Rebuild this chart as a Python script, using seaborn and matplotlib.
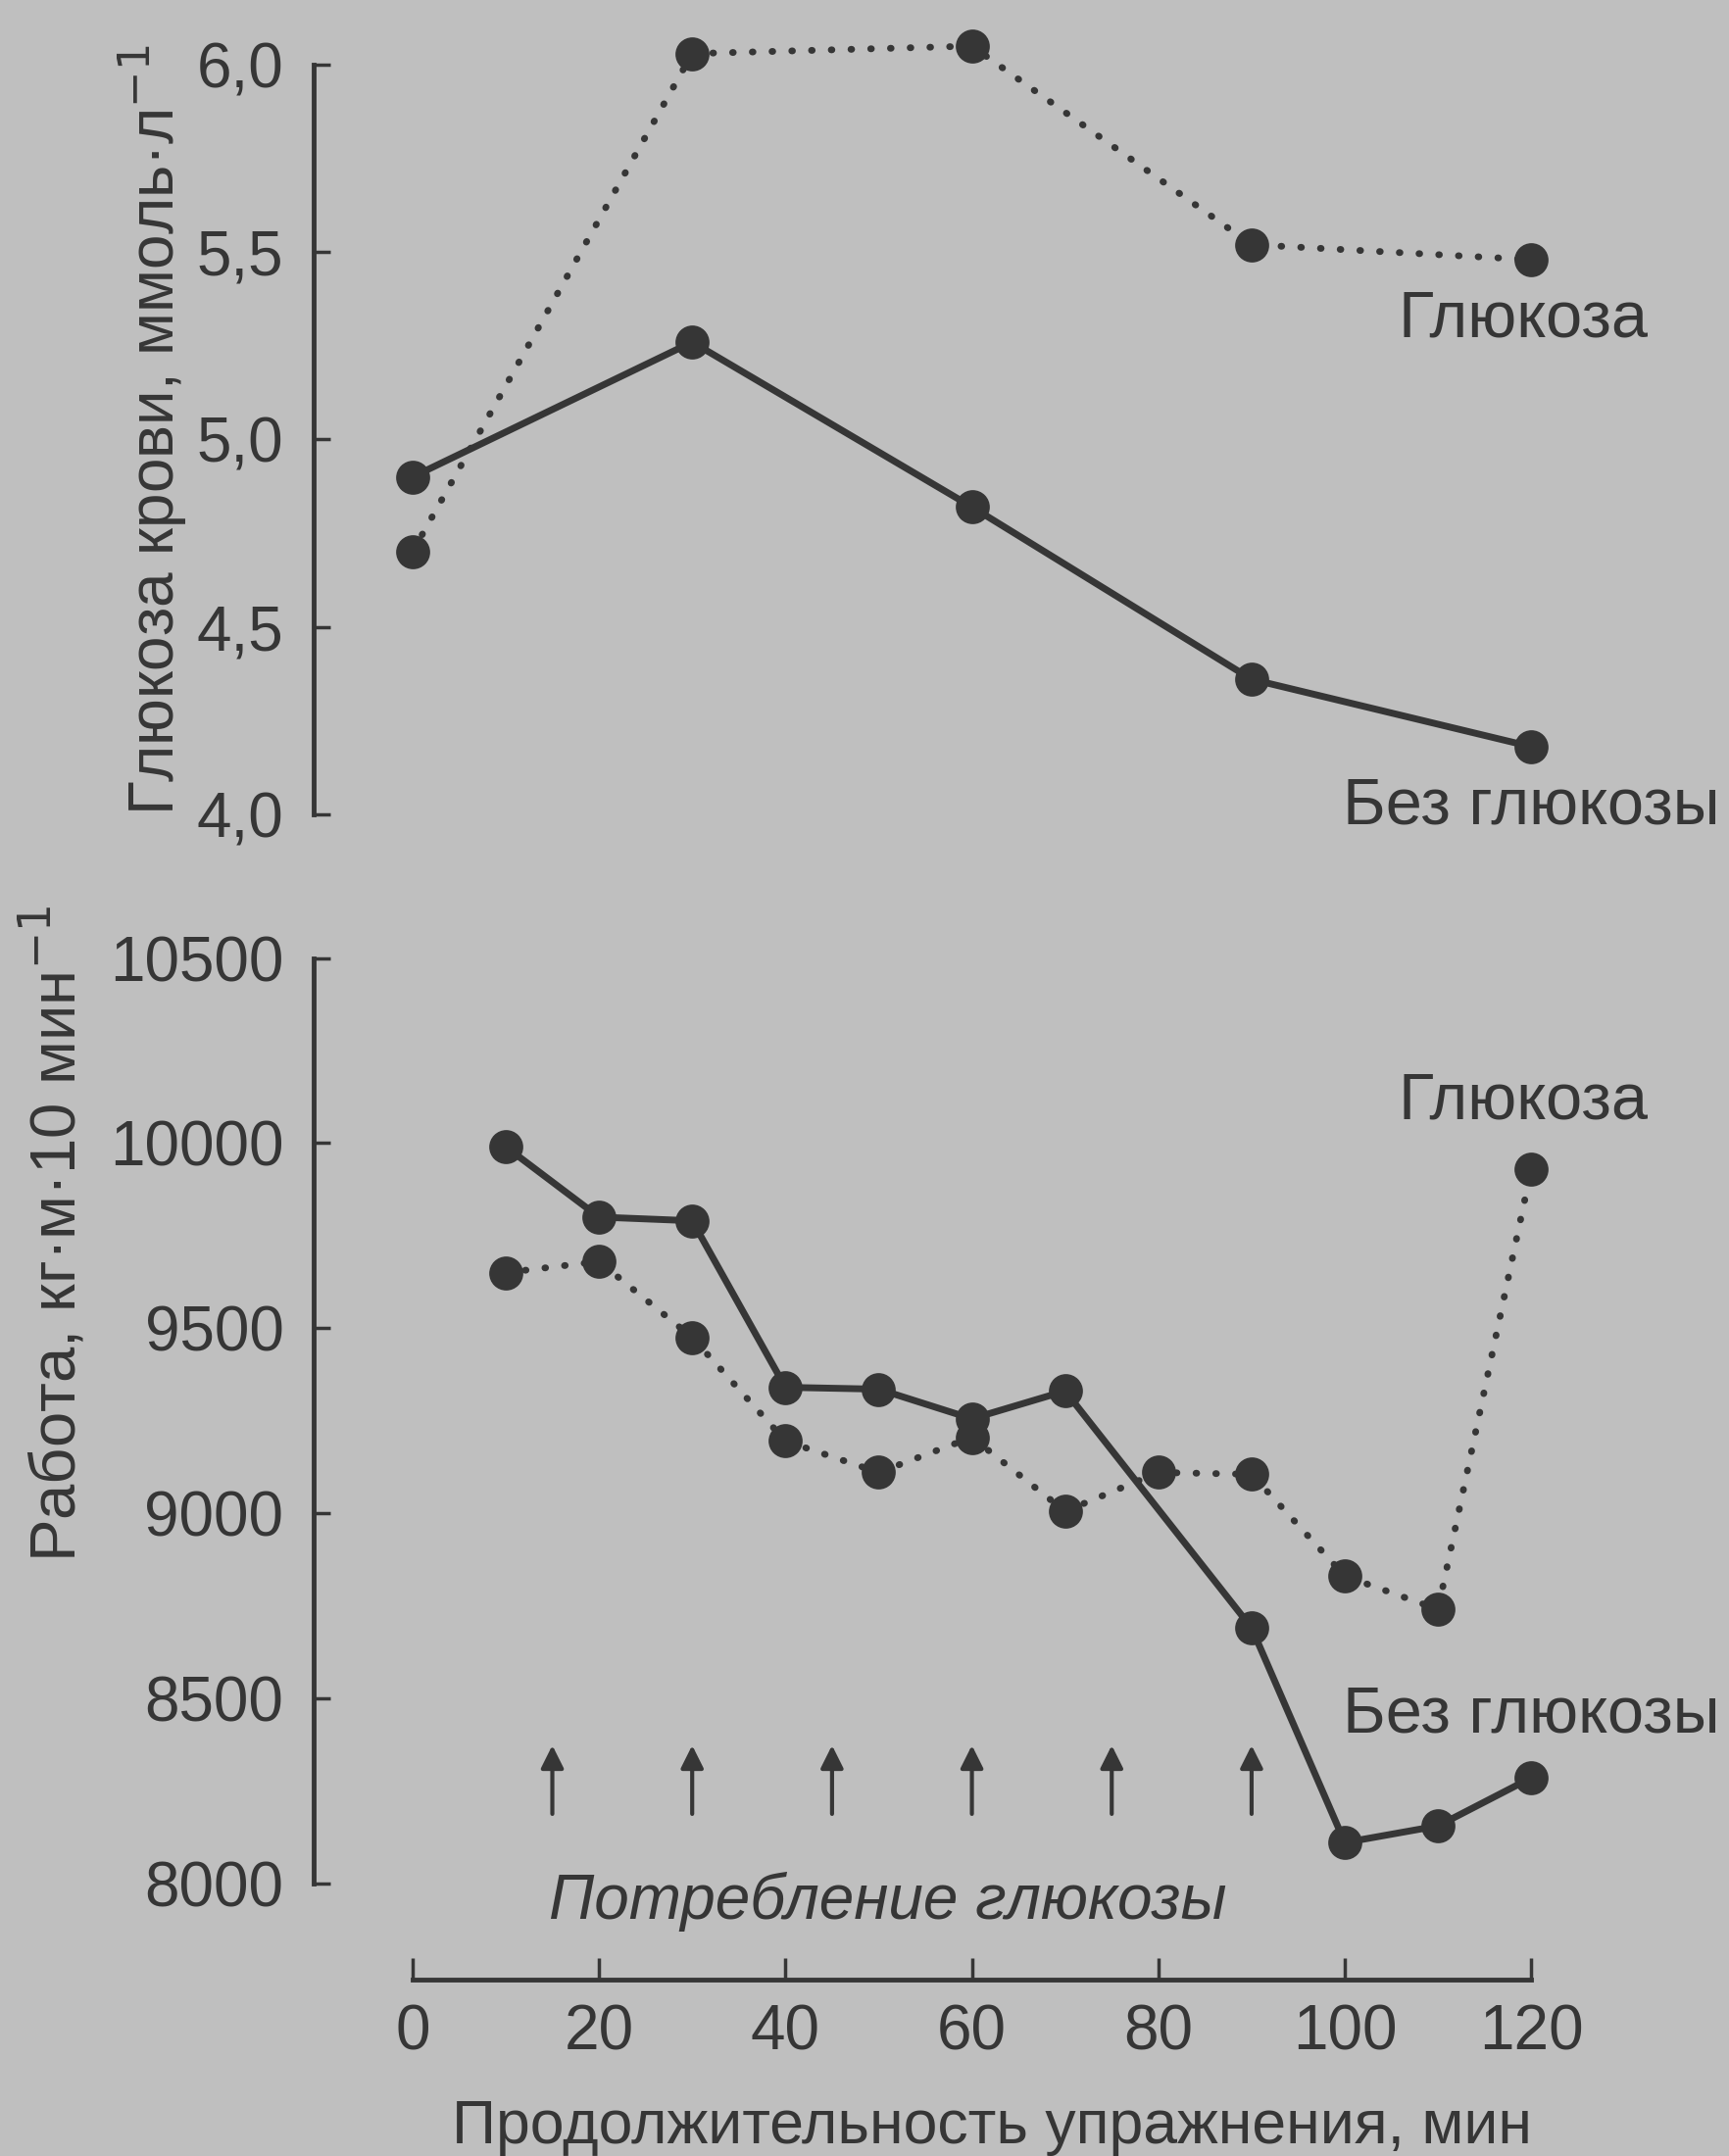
import matplotlib
matplotlib.use("Agg")
import matplotlib.pyplot as plt
import seaborn as sns

# ---- data ----
time_top = [0, 30, 60, 90, 120]
glucose_with = [4.70, 6.03, 6.05, 5.52, 5.48]
glucose_without = [4.90, 5.26, 4.82, 4.36, 4.18]

time_work = [10, 20, 30, 40, 50, 60, 70, 80, 90, 100, 110, 120]
work_with = [9650, 9680, 9475, 9195, 9110, 9205, 9005, 9110, 9105, 8830, 8740, 9930]
time_work_no = [10, 20, 30, 40, 50, 60, 70, 90, 100, 110, 120]
work_without = [9990, 9800, 9790, 9340, 9335, 9255, 9330, 8690, 8110, 8155, 8285]

intake_times = [15, 30, 45, 60, 75, 90]

top_ticks = [4.0, 4.5, 5.0, 5.5, 6.0]
top_ticklabels = ["4,0", "4,5", "5,0", "5,5", "6,0"]
work_ticks = [8000, 8500, 9000, 9500, 10000, 10500]
x_ticks = [0, 20, 40, 60, 80, 100, 120]

# ---- style ----
BG = "#bfbfbf"
INK = "#363636"
sns.set_style("ticks")
plt.rcParams['font.family'] = ['Liberation Sans', 'DejaVu Sans']
plt.rcParams['text.color'] = INK
plt.rcParams['axes.labelcolor'] = INK
plt.rcParams['xtick.color'] = INK
plt.rcParams['ytick.color'] = INK

fig = plt.figure(figsize=(17.65, 22), dpi=100, facecolor=BG)
ax1 = fig.add_axes([0.1813, 0.605, 0.7847, 0.391])
ax2 = fig.add_axes([0.1813, 0.075, 0.7847, 0.515])
for ax in (ax1, ax2):
    ax.set_facecolor(BG)
    ax.patch.set_alpha(0)
    for s in ['top', 'right']:
        ax.spines[s].set_visible(False)
    ax.spines['left'].set_color(INK)
    ax.spines['left'].set_linewidth(3.5)
    ax.set_xlim(-10.6, 135)
    ax.tick_params(axis='y', direction='in', length=12, width=2.5, pad=22, labelsize=46)

dotted = dict(color=INK, linewidth=5, linestyle=(0, (0.1, 2.8)), dash_capstyle='round',
              marker='o', markersize=25, markeredgewidth=0)
solid = dict(color=INK, linewidth=5, linestyle='-', marker='o', markersize=25, markeredgewidth=0)

# ---- top panel: blood glucose ----
sns.lineplot(x=time_top, y=glucose_with, ax=ax1, **dotted)
sns.lineplot(x=time_top, y=glucose_without, ax=ax1, **solid)
ax1.set_ylim(3.9, 6.15)
ax1.spines['left'].set_bounds(4.0, 6.0)
ax1.set_yticks(top_ticks)
ax1.set_yticklabels(top_ticklabels)
ax1.spines['bottom'].set_visible(False)
ax1.set_xticks([])
ax1.set_ylabel("Глюкоза крови, ммоль·л$^{-1}$", fontsize=46)
ax1.yaxis.set_label_coords(-0.092, 0.50)
ax1.text(132.5, 5.32, "Глюкоза", fontsize=48, ha='right', va='center')
ax1.text(140.2, 4.02, "Без глюкозы", fontsize=48, ha='right', va='center')

# ---- bottom panel: work output ----
sns.lineplot(x=time_work, y=work_with, ax=ax2, **dotted)
sns.lineplot(x=time_work_no, y=work_without, ax=ax2, **solid)
ax2.set_ylim(7700, 10700)
ax2.spines['left'].set_bounds(8000, 10500)
ax2.set_yticks(work_ticks)
ax2.set_ylabel("Работа, кг·м·10 мин$^{-1}$", fontsize=47)
ax2.yaxis.set_label_coords(-0.166, 0.685)

ax2.spines['bottom'].set_position(('data', 7740))
ax2.spines['bottom'].set_bounds(0, 120)
ax2.spines['bottom'].set_color(INK)
ax2.spines['bottom'].set_linewidth(3.5)
ax2.set_xticks(x_ticks)
ax2.tick_params(axis='x', direction='in', length=16, width=2.5, pad=18, labelsize=46)
ax2.set_xlabel("Продолжительность упражнения, мин", fontsize=45, labelpad=26)

ax2.text(132.5, 10111, "Глюкоза", fontsize=48, ha='right', va='center')
ax2.text(140.2, 8453, "Без глюкозы", fontsize=48, ha='right', va='center')

for t in intake_times:
    ax2.annotate("", xy=(t, 8380), xytext=(t, 8180),
                 arrowprops=dict(arrowstyle='-|>', color=INK, lw=3, mutation_scale=35))
ax2.text(51, 7950, "Потребление глюкозы", fontsize=46, style='italic', ha='center', va='center')

fig.savefig("out.png", dpi=100, facecolor=BG)
